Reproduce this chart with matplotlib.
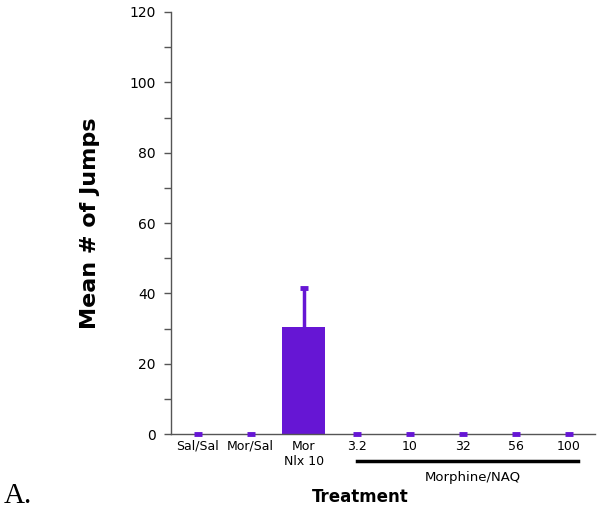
import matplotlib
matplotlib.use("Agg")
import matplotlib.pyplot as plt
from matplotlib.ticker import MultipleLocator
import matplotlib.transforms as mtransforms

categories = ["Sal/Sal", "Mor/Sal", "Mor\nNlx 10", "3.2", "10", "32", "56", "100"]
means = [0, 0, 30.3, 0, 0, 0, 0, 0]
errors = [0, 0, 11.1, 0, 0, 0, 0, 0]
group_label = "Morphine/NAQ"

color = "#6616D4"

fig = plt.figure(figsize=(6, 5.17), dpi=100)
ax = fig.add_axes([0.285, 0.1605, 0.707, 0.8163])

x = list(range(len(categories)))
tops = [m + e for m, e in zip(means, errors)]
ax.bar(x, means, width=0.8, color=color, zorder=2)
ax.vlines(x, means, tops, colors=color, linewidth=2.5, zorder=3)
ax.plot(x, tops, linestyle="none", marker="_", markersize=6, markeredgewidth=3.5,
        color=color, zorder=4, clip_on=False)

ax.set_xlim(-0.5, 7.5)
ax.set_ylim(0, 120)
ax.yaxis.set_major_locator(MultipleLocator(20))
ax.yaxis.set_minor_locator(MultipleLocator(10))
ax.tick_params(axis="y", which="both", direction="out", length=5, width=1, color="#555555", labelsize=10, pad=6)
ax.tick_params(axis="x", length=0, labelsize=9, pad=4)
ax.set_xticks(x)
ax.set_xticklabels(categories)
for s in ["top", "right"]:
    ax.spines[s].set_visible(False)
for s in ["left", "bottom"]:
    ax.spines[s].set_color("#555555")
    ax.spines[s].set_linewidth(1)

ax.set_ylabel("Mean # of Jumps", fontsize=16, fontweight="bold", labelpad=21)

trans = mtransforms.blended_transform_factory(ax.transData, fig.transFigure)
ax.plot([3, 7.17], [1 - 461/517, 1 - 461/517], color="black", lw=2.5, transform=trans, clip_on=False)
fig.text(473/600, 1 - 477/517, group_label, ha="center", va="center", fontsize=9.5)
fig.text(360/600, 1 - 497/517, "Treatment", ha="center", va="center", fontsize=12, fontweight="bold")
fig.text(4/600, 1 - 496/517, "A.", ha="left", va="center", fontsize=21, family="Liberation Serif")

fig.savefig("out.png", dpi=100)
